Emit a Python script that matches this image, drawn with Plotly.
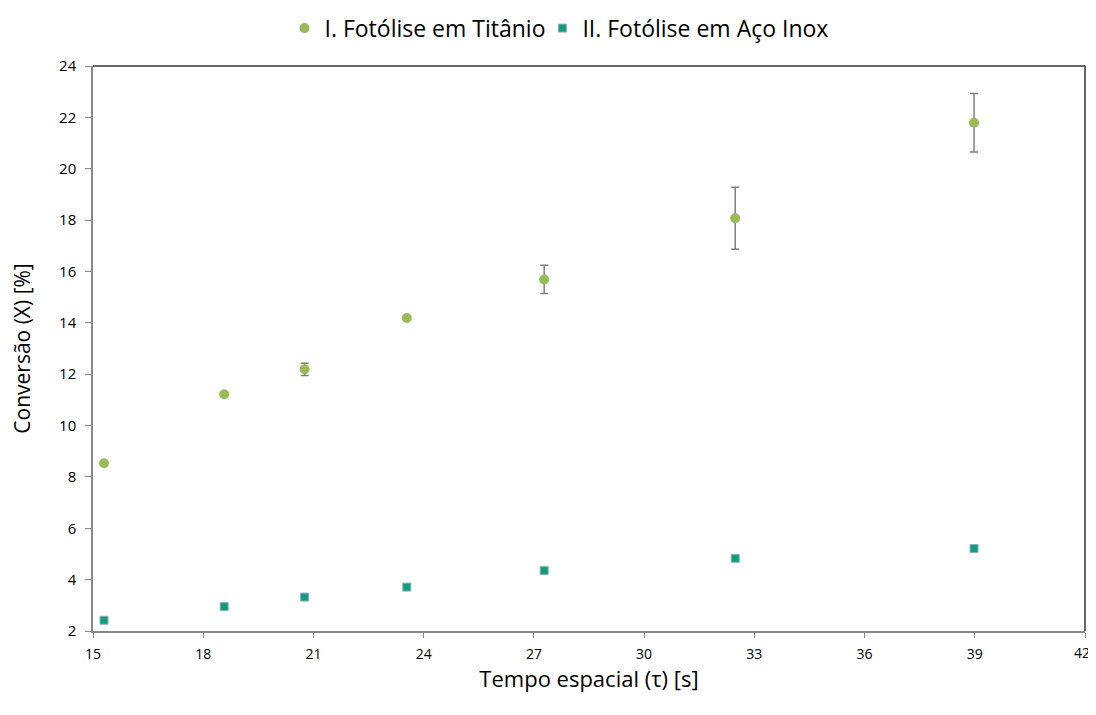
import plotly.graph_objects as go

# Data
tau = [15.3, 18.57, 20.76, 23.54, 27.28, 32.48, 38.98]
conv_ti = [8.53, 11.22, 12.19, 14.19, 15.69, 18.07, 21.79]
err_ti = [0.0, 0.0, 0.24, 0.0, 0.55, 1.21, 1.14]
conv_inox = [2.42, 2.95, 3.32, 3.71, 4.35, 4.83, 5.21]

x_ticks = [15, 18, 21, 24, 27, 30, 33, 36, 39, 42]
y_ticks = [2, 4, 6, 8, 10, 12, 14, 16, 18, 20, 22, 24]

FONT = "Open Sans, Liberation Sans, sans-serif"

fig = go.Figure()
fig.add_trace(go.Scatter(
    x=tau, y=conv_ti, mode="markers", name="I. Fotólise em Titânio",
    marker=dict(symbol="circle", size=10, color="#9BBB59"),
    error_y=dict(type="data", array=err_ti, visible=True, color="#7F7F7F", thickness=1.5, width=4),
    legend="legend",
))
fig.add_trace(go.Scatter(
    x=tau, y=conv_inox, mode="markers", name="II. Fotólise em Aço Inox",
    marker=dict(symbol="square", size=8, color="#0F9F72", line=dict(color="#8FA9D6", width=1)),
    legend="legend2",
))

# top and right border of plot area (darker than the axes)
fig.add_shape(type="line", xref="paper", yref="paper", x0=0, x1=1, y0=1, y1=1,
              line=dict(color="#333333", width=1.5))
fig.add_shape(type="line", xref="paper", yref="paper", x0=1, x1=1, y0=0, y1=1,
              line=dict(color="#333333", width=1.5))

# last x tick label drawn as annotation nudged left so it is not cut at the page edge
x_ticktext = [str(v) for v in x_ticks[:-1]] + [""]
fig.add_annotation(x=x_ticks[-1], xref="x", y=0, yref="paper", text=str(x_ticks[-1]),
                   showarrow=False, xanchor="center", yanchor="top", yshift=-10, xshift=-3,
                   font=dict(size=14, family=FONT, color="#000000"))

leg_common = dict(orientation="h", y=1.067, yanchor="middle", xanchor="left",
                  font=dict(size=23, family=FONT), itemsizing="trace",
                  bgcolor="rgba(0,0,0,0)", itemwidth=30)

# page body has an 8px margin, so the figure is sized/offset to compensate
fig.update_layout(
    width=1088, height=699,
    margin=dict(l=85, r=11, t=58, b=76, autoexpand=False),
    paper_bgcolor="white", plot_bgcolor="white",
    font=dict(family=FONT, color="#000000"),
    showlegend=True,
    legend=dict(x=0.193, **leg_common),
    legend2=dict(x=0.453, **leg_common),
    xaxis=dict(
        range=[15, 42], tickvals=x_ticks, ticktext=x_ticktext,
        showgrid=False, zeroline=False, showline=True, linecolor="#888888", linewidth=1.5,
        ticks="outside", ticklen=5, tickcolor="#888888", tickfont=dict(size=14),
        ticklabelstandoff=4, automargin=False,
        title=dict(text="Tempo espacial (τ) [s]", font=dict(size=22), standoff=2),
    ),
    yaxis=dict(
        range=[2, 24], tickvals=y_ticks, ticktext=[str(v) for v in y_ticks],
        showgrid=False, zeroline=False, showline=True, linecolor="#888888", linewidth=1.5,
        ticks="outside", ticklen=6, tickcolor="#888888", tickfont=dict(size=15),
        ticklabelstandoff=6, automargin=False,
        title=dict(text="Conversão (X) [%]", font=dict(size=21), standoff=29),
    ),
)

fig.write_html("out.html")
